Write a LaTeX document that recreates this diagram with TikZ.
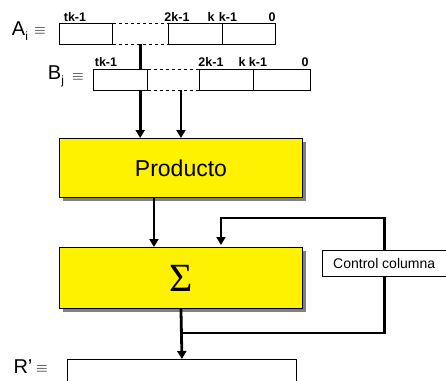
\documentclass[tikz,border=0pt]{standalone}
\usepackage{fontspec}
\setmainfont{Liberation Sans}
\newfontfamily\serifsym{Liberation Serif}
\usetikzlibrary{
    arrows.meta,
    positioning,
    calc,
    shadows,
}

\begin{document}
\begin{tikzpicture}[x=1pt, y=-1pt,
        reg/.style={draw, fill=white, line width=0.9pt, inner sep=0pt,
            minimum height=21pt, anchor=north west},
        hueco/.style={inner sep=0pt, minimum height=21pt, anchor=north west},
        bitlbl/.style={inner sep=0pt, font=\fontsize{12.5}{12.5}\selectfont\bfseries},
        regname/.style={inner sep=0pt, font=\fontsize{20}{20}\selectfont},
        equiv/.style={inner sep=0pt},
        etapa/.style={draw, fill=yellow, line width=0.9pt, inner sep=0pt,
            minimum width=243pt, anchor=north west,
            drop shadow={shadow xshift=4pt, shadow yshift=-4pt, fill=black!50, opacity=1}},
        caja/.style={draw, fill=white, line width=0.9pt, inner sep=0pt, anchor=north west},
        bus/.style={line width=2.8pt, -{Triangle[length=8pt,width=9pt]}},
    ]
    \clip (0,0) rectangle (446,380);

    % registro A_i
    \node[reg, minimum width=53pt] (a1) at (59,23) {};
    \node[hueco, minimum width=56pt] (a2) at (112,23) {};
    \node[reg, minimum width=54pt] (a3) at (168,23) {};
    \node[reg, minimum width=53pt] (a4) at (222,23) {};
    \draw[dashed, line width=0.9pt] (a1.north east) -- (a3.north west)
        (a1.south east) -- (a3.south west);
    \node[regname] (na) at (20,31) {A\raisebox{-5pt}{\fontsize{12}{12}\selectfont i}};
    \node[equiv] (eqa) at (40,31) {\scalebox{1.5}{$\equiv$}};
    \node[bitlbl] (ta1) at (75,17) {tk-1};
    \node[bitlbl] (ta2) at (177,17) {2k-1};
    \node[bitlbl] (ta3) at (211,17) {k};
    \node[bitlbl] (ta4) at (228,17) {k-1};
    \node[bitlbl] (ta5) at (272,17) {0};

    % etapas
    \node[etapa, minimum height=59pt] (prod) at (59,138)
        {\fontsize{23}{23}\selectfont Producto};
    \node[etapa, minimum height=61pt] (sum) at (59,247)
        {\serifsym\fontsize{40}{40}\selectfont Σ};
    \node[caja, minimum width=123.5pt, minimum height=26pt] (ctrl) at (322,250)
        {\fontsize{14}{14}\selectfont Control columna};
    \node[caja, minimum width=229pt, minimum height=30pt] (res) at (67,359) {};

    % A_i pasa por detras de B_j
    \draw[bus] (a2.south) -- (a2.south |- prod.north);

    % registro B_j
    \node[reg, minimum width=54pt] (b1) at (93,69) {};
    \node[hueco, minimum width=52pt] (b2) at (147,69) {};
    \node[reg, minimum width=54pt] (b3) at (199,69) {};
    \node[reg, minimum width=57pt] (b4) at (253,69) {};
    \draw[dashed, line width=0.9pt] (b1.north east) -- (b3.north west)
        (b1.south east) -- (b3.south west);
    \node[regname] (nb) at (56,76) {B\raisebox{-5pt}{\fontsize{12}{12}\selectfont j}};
    \node[equiv] (eqb) at (78,77) {\scalebox{1.5}{$\equiv$}};
    \node[bitlbl] (tb1) at (106,62) {tk-1};
    \node[bitlbl] (tb2) at (211,62) {2k-1};
    \node[bitlbl] (tb3) at (242,62) {k};
    \node[bitlbl] (tb4) at (258,62) {k-1};
    \node[bitlbl] (tb5) at (305,62) {0};
    \draw[bus] (b2.south -| prod.north) -- (prod.north);

    % producto -> acumulador, realimentacion y salida
    \draw[bus] ([xshift=-27pt]prod.south) -- ([xshift=-27pt]sum.north);
    \draw[bus] (ctrl.north) |- ([xshift=40pt,yshift=29pt]sum.north)
        -- ([xshift=40pt,yshift=2pt]sum.north);
    \draw[line width=2.8pt] (ctrl.south) |- ([yshift=-24pt]sum.south);
    \draw[bus] (sum.south) -- (res.north);

    \node[regname] (nr) at (23,367) {R'};
    \node[equiv] (eqr) at (42,369) {\scalebox{1.5}{$\equiv$}};
\end{tikzpicture}
\end{document}
